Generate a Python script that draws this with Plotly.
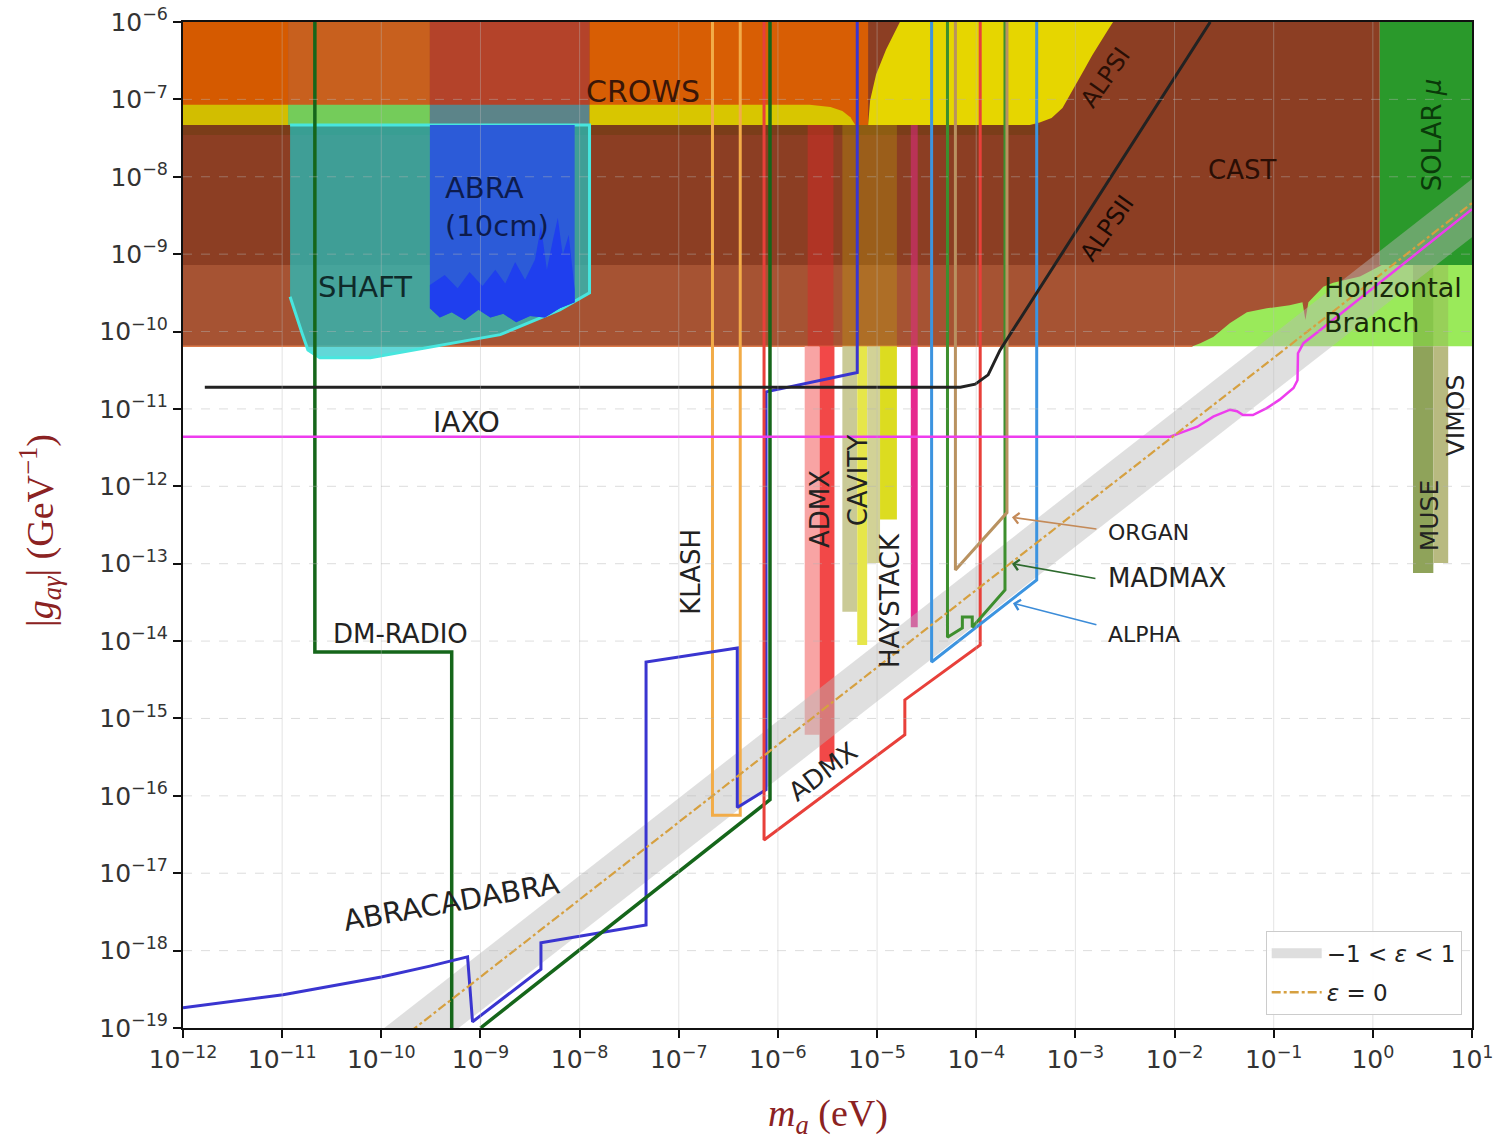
import plotly.graph_objects as go

# ---------------- data (log10 units) ----------------
# x: log10(m_a / eV), y: log10(|g_ag| / GeV^-1)
X_RANGE = [-12, 1]
Y_RANGE = [-19, -6]
x_tick_exp = list(range(-12, 2))
y_tick_exp = list(range(-19, -5))
CAST_BOTTOM = -10.19

# background exclusion regions
cast_up = ([-12.0, 0.07], [-9.14, -6.0])
solar = ([0.07, 1.0], [-9.14, -6.0])
hb = ([-3.0, 1.0], [CAST_BOTTOM, -9.14])
cast_lo_lm = [-12.0, -1.82, -1.74, -1.61, -1.44, -1.27, -1.07, -0.84, -0.71, -0.68, -0.65,
              -0.56, -0.50, -0.40, -0.13, 0.00, 0.09, -12.0]
cast_lo_lg = [-10.19, -10.19, -10.15, -10.07, -9.89, -9.75, -9.70, -9.66, -9.62, -9.85, -9.62,
              -9.50, -9.42, -9.37, -9.29, -9.20, -9.14, -9.14]

# top strip (CROWS etc.)
top_seg_lm = [-12.0, -10.94, -9.51, -7.90, -5.09]
top_lg = [-7.33, -6.0]
yband_lg = [-7.33, -7.07]
yband4_lm = [-7.90, -5.68, -5.47, -5.35, -5.27, -5.22, -7.90]
yband4_lg = [-7.07, -7.07, -7.10, -7.15, -7.23, -7.33, -7.33]
alps1_lm = [-5.09, -5.07, -5.01, -4.91, -4.77, -2.62, -2.67, -2.75, -2.83, -2.90, -2.97,
            -3.05, -3.13, -3.24, -3.36, -3.46]
alps1_lg = [-7.33, -7.01, -6.68, -6.36, -6.0, -6.0, -6.10, -6.26, -6.43, -6.59, -6.75,
            -6.94, -7.11, -7.24, -7.30, -7.33]
shade_row = ([-12.0, -3.36], [-7.46, -7.33])

# SHAFT
shaft_lm = [-10.92, -7.90, -7.90, -8.20, -8.80, -9.48, -10.11, -10.62, -10.74, -10.80, -10.92]
shaft_lg = [-7.33, -7.33, -9.50, -9.72, -10.04, -10.20, -10.34, -10.34, -10.24, -10.02, -9.55]

# ABRA (10cm)
abra_bot_lm = [-9.51, -9.41, -9.29, -9.16, -9.02, -8.90, -8.77, -8.64, -8.50, -8.35, -8.20, -8.05]
abra_bot_lg = [-9.70, -9.82, -9.75, -9.85, -9.72, -9.82, -9.77, -9.88, -9.80, -9.82, -9.70, -9.62]
abra_top_lg = -7.33
abra_in_lm = [-9.51, -9.36, -9.23, -9.11, -8.98, -8.85, -8.75, -8.65, -8.55, -8.45, -8.39,
              -8.33, -8.27, -8.22, -8.17, -8.11, -8.05]
abra_in_lg = [-9.40, -9.27, -9.44, -9.23, -9.41, -9.20, -9.38, -9.10, -9.33, -9.07, -8.64,
              -9.20, -8.82, -8.53, -9.01, -8.75, -9.46]

# haloscope exclusion strips
admx_pale = ([-5.73, -5.58], [-15.21, CAST_BOTTOM])
admx_red = ([-5.58, -5.43], [-15.56, CAST_BOTTOM])
cavity_khaki = ([-5.35, -5.20], [-13.62, CAST_BOTTOM])
cavity_yellow = ([-5.20, -5.10], [-14.05, CAST_BOTTOM])
cavity_khaki2 = ([-5.10, -4.97], [-12.99, CAST_BOTTOM])
haystack = ([-4.97, -4.80], [-12.43, CAST_BOTTOM])
capp_pink = ([-4.66, -4.59], [-13.82, CAST_BOTTOM])
admx_tint = ([-5.70, -5.44], [CAST_BOTTOM, -7.33])
cavity_tint = ([-5.35, -4.80], [CAST_BOTTOM, -7.33])
pink_tint = ([-4.66, -4.59], [CAST_BOTTOM, -7.33])
muse = ([0.405, 0.61], [-13.12, -9.14])
vimos = ([0.61, 0.76], [-12.99, -9.14])

# QCD band and epsilon = 0 line
band_lm = [-12.0, 1.0, 1.0, -12.0]
band_lg = [-21.03, -8.03, -8.78, -21.78]
eps0_lm = [-12.0, 1.0]
eps0_lg = [-21.34, -8.34]

# projected sensitivity curves
dmradio_lm = [-10.67, -10.67, -9.29, -9.29]
dmradio_lg = [-6.0, -14.14, -14.14, -19.0]
green2_lm = [-6.08, -6.08, -9.0]
green2_lg = [-6.0, -16.05, -19.0]
abracadabra_lm = [-12.0, -10.99, -10.0, -9.51, -9.13, -9.08, -8.39, -8.39, -7.33, -7.33,
                  -6.41, -6.41, -6.12, -6.12, -5.20, -5.20]
abracadabra_lg = [-18.74, -18.57, -18.34, -18.20, -18.08, -18.92, -18.24, -17.90, -17.67,
                  -14.27, -14.09, -16.15, -15.92, -10.78, -10.53, -6.0]
klash_lm = [-6.66, -6.66, -6.38, -6.38]
klash_lg = [-6.0, -16.25, -16.25, -6.0]
admx_lm = [-6.14, -6.14, -4.72, -4.72, -3.96, -3.96]
admx_lg = [-6.0, -16.57, -15.21, -14.76, -14.05, -6.0]
alpha_lm = [-4.45, -4.45, -3.39, -3.39]
alpha_lg = [-6.0, -14.27, -13.21, -6.0]
madmax_lm = [-4.29, -4.29, -4.14, -4.14, -4.04, -4.04, -3.71, -3.71]
madmax_lg = [-6.0, -13.95, -13.83, -13.69, -13.69, -13.82, -13.34, -6.0]
organ_lm = [-4.21, -4.21, -3.69, -3.69]
organ_lg = [-6.0, -13.08, -12.34, -6.0]
alps2_lm = [-11.78, -4.16, -4.01, -3.88, -3.76, -1.64]
alps2_lg = [-10.72, -10.72, -10.68, -10.56, -10.24, -6.0]
iaxo_lm = [-12.0, -2.045, -1.94, -1.77, -1.61, -1.44, -1.37, -1.31, -1.21, -1.07, -0.94,
           -0.80, -0.76, -0.755, -0.70, -0.53, 1.0]
iaxo_lg = [-11.36, -11.36, -11.31, -11.23, -11.10, -11.01, -11.03, -11.08, -11.08, -10.99,
           -10.88, -10.73, -10.63, -10.28, -10.15, -9.98, -8.42]

# ---------------- figure ----------------
fig = go.Figure()


def E(v):
    return [10.0 ** a for a in v]


def rect(lm, lg):
    return ([lm[0], lm[1], lm[1], lm[0], lm[0]], [lg[0], lg[0], lg[1], lg[1], lg[0]])


def fill(lm, lg, color, lcolor=None, lw=0):
    fig.add_trace(go.Scatter(
        x=E(lm), y=E(lg), mode="lines", fill="toself", fillcolor=color,
        line=dict(color=lcolor if lcolor else "rgba(0,0,0,0)", width=lw),
        hoverinfo="skip", showlegend=False))


def box(region, color):
    fill(*rect(*region), color)


def path(lm, lg, color, w=3.0, dash="solid"):
    fig.add_trace(go.Scatter(
        x=E(lm), y=E(lg), mode="lines", line=dict(color=color, width=w, dash=dash),
        hoverinfo="skip", showlegend=False))


# background regions
box(cast_up, "#8C3E23")
box(solar, "#2A992B")
box(hb, "#9AEA5A")
fill(cast_lo_lm, cast_lo_lg, "#A65333")
path([cast_lo_lm[0], cast_lo_lm[1]], [cast_lo_lg[0], cast_lo_lg[1]], "#DB7A4A", w=1.5)

top_colors = ["#D55A00", "#C8601E", "#B4432A", "#D85E04"]
for i, c in enumerate(top_colors):
    box(([top_seg_lm[i], top_seg_lm[i + 1]], top_lg), c)
yb_colors = ["#D2BE00", "#74CC5A", "#5C8489"]
for i, c in enumerate(yb_colors):
    box(([top_seg_lm[i], top_seg_lm[i + 1]], yband_lg), c)
fill(yband4_lm, yband4_lg, "#D8C600")
fill(alps1_lm, alps1_lg, "#E6D600")
box(shade_row, "rgba(80,60,0,0.28)")

# SHAFT and ABRA
fill(shaft_lm, shaft_lg, "rgba(30,200,200,0.7)", lcolor="#48E6DE", lw=3)
fill([abra_bot_lm[0]] + abra_bot_lm + [abra_bot_lm[-1]],
     [abra_top_lg] + abra_bot_lg + [abra_top_lg], "#2C5BD8")
fill(abra_in_lm + abra_bot_lm[::-1], abra_in_lg + abra_bot_lg[::-1], "#1F3FEE")

# haloscope strips
box(admx_pale, "#F8A4A4")
box(admx_red, "#F24848")
box(cavity_khaki, "#CACA96")
box(cavity_yellow, "#E6E64A")
box(cavity_khaki2, "#D2D296")
box(haystack, "#DCDC20")
box(capp_pink, "#E62A8E")
box(admx_tint, "rgba(220,40,40,0.45)")
box(cavity_tint, "rgba(200,190,0,0.25)")
box(pink_tint, "rgba(230,40,140,0.5)")
box(([muse[0][0], muse[0][1]], [muse[1][0], CAST_BOTTOM]), "#8FA35A")
box(([vimos[0][0], vimos[0][1]], [vimos[1][0], CAST_BOTTOM]), "#B8BA80")
box(([muse[0][0], muse[0][1]], [CAST_BOTTOM, muse[1][1]]), "rgba(100,130,50,0.35)")
box(([vimos[0][0], vimos[0][1]], [CAST_BOTTOM, vimos[1][1]]), "rgba(150,150,90,0.3)")

# QCD band
BAND_COLOR = "rgba(185,185,185,0.45)"
fill(band_lm, band_lg, BAND_COLOR)

# sensitivity lines
path(klash_lm, klash_lg, "#F2AC48", 3)
path(dmradio_lm, dmradio_lg, "#15661A", 3.5)
path(abracadabra_lm, abracadabra_lg, "#3A35D0", 3)
path(green2_lm, green2_lg, "#15661A", 3.5)
path(admx_lm, admx_lg, "#E8403A", 3)
path(alpha_lm, alpha_lg, "#3C94E0", 3)
path(madmax_lm, madmax_lg, "#3D8F2E", 3)
path(organ_lm, organ_lg, "#B99260", 3)
path(alps2_lm, alps2_lg, "#222222", 3)
path(iaxo_lm, iaxo_lg, "#EE3CEE", 2.5)
EPS_COLOR = "#D6A040"
path(eps0_lm, eps0_lg, EPS_COLOR, 2.2, dash="dashdot")

# grid (drawn faintly over the filled regions, as in the reference)
for k in x_tick_exp[1:-1]:
    path([k, k], [Y_RANGE[0], Y_RANGE[1]], "rgba(185,185,185,0.4)", 1)
for k in y_tick_exp[1:-1]:
    path([X_RANGE[0], X_RANGE[1]], [k, k], "rgba(180,180,180,0.45)", 1, dash="dash")

# legend entries (legend-only keys for the band and the epsilon = 0 line)
fig.add_trace(go.Scatter(x=[None], y=[None], mode="lines", name="\u22121 < <i>\u03b5</i> < 1",
                         line=dict(color="rgb(222,222,222)", width=16), legendgroup="a",
                         hoverinfo="skip"))
fig.add_trace(go.Scatter(x=[None], y=[None], mode="lines", name="<i>\u03b5</i> = 0",
                         line=dict(color=EPS_COLOR, width=2.5, dash="dashdot"), legendgroup="b",
                         hoverinfo="skip"))

# ---------------- labels ----------------
TXT = "DejaVu Sans"
labels = [
    ("CROWS", -7.36, -6.90, 0, 30, "#3A1608"),
    ("SHAFT", -10.16, -9.42, 0, 29, "#0F2A2A"),
    ("ALPSI", -2.70, -6.72, -55, 24, "#2A0F05"),
    ("ALPSII", -2.68, -8.66, -55, 24, "#1A0A05"),
    ("CAST", -1.32, -7.91, 0, 26, "#2A0E05"),
    ("SOLAR <i>\u03bc</i>", 0.60, -7.46, -90, 26, "#0A3A0A"),
    ("IAXO", -9.14, -11.17, 0, 28, "#222222"),
    ("ADMX", -5.58, -12.30, -90, 26, "#222222"),
    ("CAVITY", -5.19, -11.92, -90, 26, "#222222"),
    ("KLASH", -6.87, -13.11, -90, 26, "#222222"),
    ("HAYSTACK", -4.87, -13.47, -90, 26, "#222222"),
    ("DM-RADIO", -9.81, -13.91, 0, 26, "#222222"),
    ("ABRACADABRA", -9.29, -17.37, -10, 29, "#222222"),
    ("ADMX", -5.55, -15.69, -37, 26, "#222222"),
    ("MUSE", 0.58, -12.37, -90, 25, "#222222"),
    ("VIMOS", 0.83, -11.08, -90, 25, "#222222"),
]
for t, x, y, ang, s, c in labels:
    fig.add_annotation(x=x, y=y, xref="x", yref="y", text=t, showarrow=False, textangle=ang,
                       font=dict(family=TXT, size=s, color=c), xanchor="center", yanchor="middle")

left_labels = [
    ("ABRA<br>(10cm)", -9.38, -8.39, 29, "#0D1B4D"),
    ("Horizontal<br>Branch", -0.51, -9.66, 27, "#1A2A0A"),
    ("ORGAN", -2.69, -12.60, 22, "#222222"),
    ("MADMAX", -2.69, -13.18, 26, "#222222"),
    ("ALPHA", -2.69, -13.92, 22, "#222222"),
]
for t, x, y, s, c in left_labels:
    fig.add_annotation(x=x, y=y, xref="x", yref="y", text=t, showarrow=False, align="left",
                       font=dict(family=TXT, size=s, color=c), xanchor="left", yanchor="middle")

arrows = [
    (-3.64, -12.40, 86, 12, "#C48A58"),
    (-3.64, -13.00, 85, 15, "#2E6B2E"),
    (-3.63, -13.51, 85, 22, "#3C8CD8"),
]
for x, y, ax, ay, c in arrows:
    fig.add_annotation(x=x, y=y, xref="x", yref="y", text="", showarrow=True, ax=ax, ay=ay,
                       arrowhead=4, arrowsize=1.3, arrowwidth=1.6, arrowcolor=c)

# axis titles
fig.add_annotation(x=-0.111, y=0.495, xref="paper", yref="paper", textangle=-90, showarrow=False,
                   xanchor="center", yanchor="middle",
                   text="|<i>g</i><sub><i>a\u03b3</i></sub>| (GeV<sup>\u22121</sup>)",
                   font=dict(family="Liberation Serif", size=38, color="#8B2222"))
fig.add_annotation(x=0.5, y=-0.087, xref="paper", yref="paper", showarrow=False,
                   xanchor="center", yanchor="middle",
                   text="<i>m<sub>a</sub></i> (eV)",
                   font=dict(family="Liberation Serif", size=38, color="#8B2222"))

tick_font = dict(family=TXT, size=25, color="#333333")
fig.update_xaxes(type="log", range=X_RANGE, showgrid=False, zeroline=False, automargin=False,
                 tickmode="array", tickvals=E(x_tick_exp), ticklabeloverflow="allow",
                 ticktext=["10<sup>\u2212%d</sup>" % -k if k < 0 else "10<sup>%d</sup>" % k
                           for k in x_tick_exp],
                 ticks="outside", ticklen=8, tickwidth=2, tickcolor="#111111",
                 showline=True, linecolor="#111111", linewidth=2, mirror=True,
                 tickfont=tick_font)
fig.update_yaxes(type="log", range=Y_RANGE, showgrid=False, zeroline=False, automargin=False,
                 tickmode="array", tickvals=E(y_tick_exp), ticklabeloverflow="allow",
                 ticktext=["10<sup>\u2212%d</sup>" % -k for k in y_tick_exp],
                 ticks="outside", ticklen=8, tickwidth=2, tickcolor="#111111",
                 showline=True, linecolor="#111111", linewidth=2, mirror=True,
                 tickfont=tick_font)

fig.update_layout(
    width=1497, height=1139,
    margin=dict(l=183, r=25, t=22, b=111, autoexpand=False),
    paper_bgcolor="white", plot_bgcolor="white",
    legend=dict(x=0.992, y=0.013, xanchor="right", yanchor="bottom",
                bgcolor="rgba(255,255,255,0.9)", bordercolor="#cccccc", borderwidth=1,
                itemwidth=50, tracegroupgap=6,
                font=dict(family=TXT, size=23, color="#222222")),
)

# remove the browser's default 8 px page margin so the figure fills the window exactly
fig.write_html("out.html", config={"displayModeBar": False},
               post_script="document.body.style.margin='0px';document.body.style.overflow='hidden';")
